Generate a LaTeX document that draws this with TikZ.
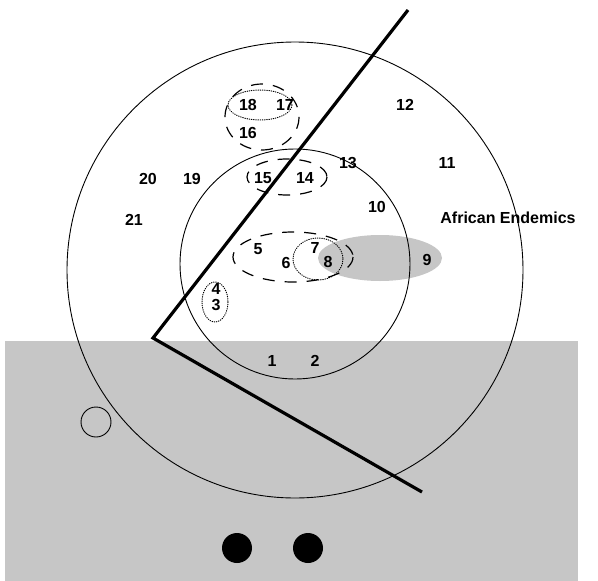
\documentclass[tikz,border=0pt]{standalone}
\usepackage{fontspec}
\setmainfont{Liberation Sans}
\definecolor{bggrey}{RGB}{198,198,198}
\begin{document}
\begin{tikzpicture}[x=1pt,y=-1pt,
  lbl/.style={font=\bfseries\fontsize{16}{18}\selectfont, inner sep=0pt},
  ring/.style={draw=black, line width=0.9pt},
  dashring/.style={draw=black, line width=1.2pt, dash pattern=on 12pt off 10pt},
  dotring/.style={draw=black, line width=1pt, dash pattern=on 0.6pt off 1.6pt, line cap=round},
  disc/.style={circle, inner sep=0pt, minimum size=30pt}
]
\useasboundingbox (0,0) rectangle (598,581);
\fill[bggrey] (5,341) rectangle (578,581);
\fill[bggrey] (380,258) ellipse [x radius=62, y radius=23];
\node[disc, draw=black, line width=0.9pt, fill=bggrey] (grey) at (96,422) {};
\node[disc, fill=black] (blackA) at (237,548) {};
\node[disc, fill=black] (blackB) at (308,548) {};
\draw[ring] (295,270) circle [radius=228];
\draw[ring] (295,264) circle [radius=115];
\coordinate (top) at (408,10);
\coordinate (apex) at (153,338);
\coordinate (bot) at (422,492);
\draw[line width=3.2pt, line join=miter] (top) -- (apex) -- (bot);
% groupings
\draw[dashring] (262,117) ellipse [x radius=37, y radius=33];
\draw[dotring] (260,105) ellipse [x radius=32, y radius=15];
\draw[dashring] (287,177) ellipse [x radius=40, y radius=18];
\draw[dashring] (293,257) ellipse [x radius=60, y radius=25];
\draw[dotring] (318,259) ellipse [x radius=25, y radius=21];
\draw[dotring] (215,302) ellipse [x radius=13, y radius=20];
% labels
\node[lbl] (n18) at (248,105) {18};
\node[lbl] (n17) at (285,105) {17};
\node[lbl] (n16) at (248,133) {16};
\node[lbl] (n15) at (263,178) {15};
\node[lbl] (n14) at (305,178) {14};
\node[lbl] (n13) at (348,163) {13};
\node[lbl] (n12) at (405,105) {12};
\node[lbl] (n11) at (447,163) {11};
\node[lbl] (n10) at (377,207) {10};
\node[lbl] (n20) at (148,179) {20};
\node[lbl] (n19) at (192,179) {19};
\node[lbl] (n21) at (134,220) {21};
\node[lbl] (n5) at (258,249) {5};
\node[lbl] (n6) at (286,263) {6};
\node[lbl] (n7) at (315,248) {7};
\node[lbl] (n8) at (328,262) {8};
\node[lbl] (n9) at (427,260) {9};
\node[lbl] (n4) at (216,289) {4};
\node[lbl] (n3) at (216,305) {3};
\node[lbl] (n1) at (272,361) {1};
\node[lbl] (n2) at (315,361) {2};
\node[lbl] (af) at (508,218) {African Endemics};
\end{tikzpicture}
\end{document}
